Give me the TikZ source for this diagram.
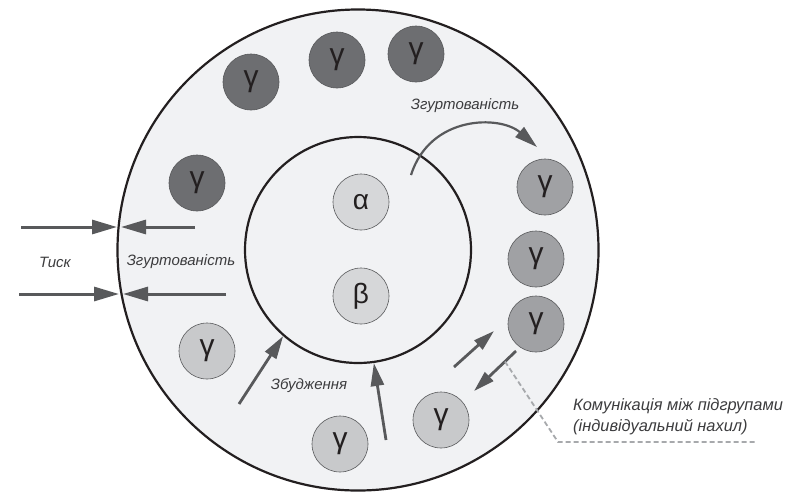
\documentclass[tikz,border=0pt]{standalone}
\usepackage{fontspec}
\setmainfont{Liberation Sans}
\usetikzlibrary{arrows.meta}
\definecolor{ringgray}{HTML}{F1F2F4}
\definecolor{arrowgray}{HTML}{58595B}
\definecolor{darkgam}{HTML}{6D6E71}
\definecolor{midgam}{HTML}{A0A1A4}
\definecolor{lightgam}{HTML}{C8C9CB}
\definecolor{coregray}{HTML}{D6D7D9}
\definecolor{dashgray}{HTML}{A7A9AC}
\definecolor{textgray}{HTML}{3C3C3E}
\definecolor{glyphgray}{HTML}{231F20}
\tikzset{
  member/.style={circle, draw=arrowgray, line width=0.6pt, minimum size=56pt, inner sep=0pt,
    text=glyphgray, font=\fontsize{30}{30}\selectfont},
  gdark/.style={member, fill=darkgam},
  gmid/.style={member, fill=midgam},
  glight/.style={member, fill=lightgam},
  gcore/.style={member, fill=coregray, font=\fontsize{28}{28}\selectfont},
  ring/.style={circle, draw=glyphgray, line width=2.2pt, fill=ringgray, inner sep=0pt},
  force/.style={draw=arrowgray, line width=2.8pt, -{Triangle[length=23pt,width=13pt]}},
  push/.style={force, line width=3pt, -{Triangle[length=25pt,width=14pt]}},
  note/.style={font=\fontsize{15}{21}\selectfont\itshape, text=textgray, inner sep=0pt}
}

\begin{document}
\begin{tikzpicture}[x=1pt,y=-1pt]
	\useasboundingbox (0,0) rectangle (797,491);
	\node[ring, minimum size=481pt] (outer) at (358,250) {};
	\node[ring, minimum size=226pt] (inner) at (358,250) {};
	% core of the group
	\node[gcore] (alpha) at (361,202) {α};
	\node[gcore] (beta) at (361,296) {β};
	% outer members
	\node[gdark] (g1) at (197,183) {γ};
	\node[gdark] (g2) at (251,82) {γ};
	\node[gdark] (g3) at (337,60) {γ};
	\node[gdark] (g4) at (416,54) {γ};
	\node[gmid] (g5) at (545,187) {γ};
	\node[gmid] (g6) at (536,259) {γ};
	\node[gmid] (g7) at (536,324) {γ};
	\node[glight] (g8) at (441,420) {γ};
	\node[glight] (g9) at (340,444) {γ};
	\node[glight] (g10) at (207,351) {γ};
	% pressure from outside
	\coordinate (pa) at (21,227);
	\coordinate (pa') at (117,227);
	\coordinate (pb) at (195,227);
	\coordinate (pb') at (121,227);
	\coordinate (pc) at (19,294);
	\coordinate (pc') at (119,294);
	\coordinate (pd) at (226,294);
	\coordinate (pd') at (123,294);
	\draw[push] (pa) -- (pa');
	\draw[push] (pb) -- (pb');
	\draw[push] (pc) -- (pc');
	\draw[push] (pd) -- (pd');
	\node[note] (tysk) at (55,262) {Тиск};
	\node[note] (zg1) at (181,262) {Згуртованість};
	% cohesion arc
	\coordinate (ca) at (411,175);
	\coordinate (cb) at (537,147);
	\draw[force, line width=2.2pt] (ca) .. controls (430,115) and (500,115) .. (cb);
	\node[note] (zg2) at (465,106) {Згуртованість};
	% arousal
	\coordinate (ea) at (239,404);
	\coordinate (eb) at (386,440);
	\draw[force] (ea) -- (inner.229);
	\draw[force] (eb) -- (inner.278);
	\node[note] (zb) at (309,386) {Збудження};
	% communication between subgroups
	\coordinate (ka) at (454,367);
	\coordinate (kb) at (494,331);
	\coordinate (kc) at (516,351);
	\coordinate (kd) at (474,391);
	\draw[force, -{Triangle[length=21pt,width=12pt]}] (ka) -- (kb);
	\draw[force, -{Triangle[length=21pt,width=12pt]}] (kc) -- (kd);
	\coordinate (da) at (505,361.5);
	\coordinate (db) at (558,442);
	\coordinate (dc) at (755,442);
	\draw[dashgray, line width=1.8pt, dash pattern=on 5pt off 3pt] (da) -- (db) -- (dc);
	\node[note, font=\fontsize{16.4}{21}\selectfont\itshape, anchor=west, align=left] (komm) at (573,417) {Комунікація між підгрупами\\(індивідуальний нахил)};
\end{tikzpicture}
\end{document}
